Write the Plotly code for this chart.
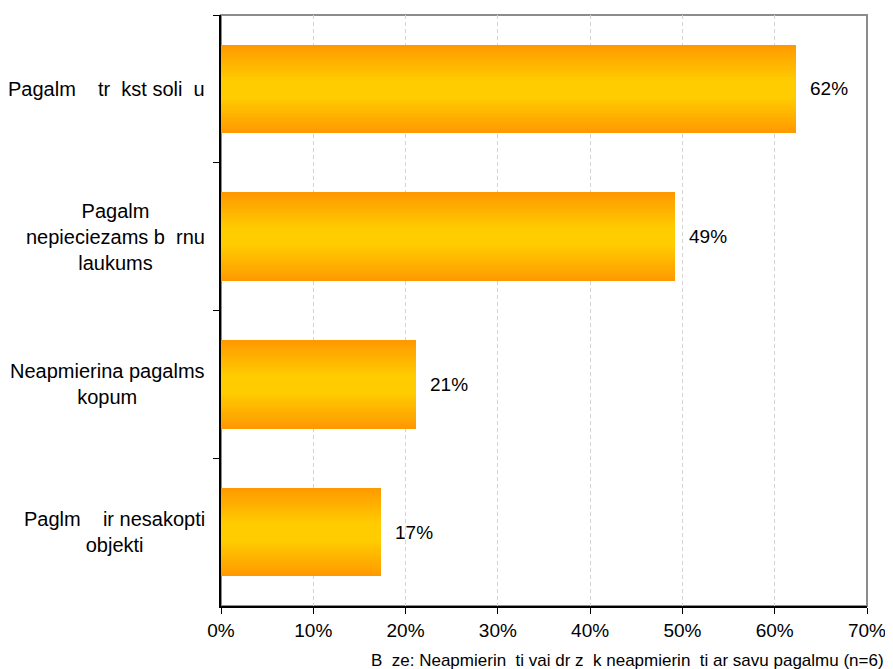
import plotly.graph_objects as go

NB = "\u00a0"
categories = [
    "Pagalm" + NB * 3 + " tr" + NB * 2 + "kst soli" + NB * 2 + "u",
    "Pagalm<br>nepieciezams b" + NB * 2 + "rnu<br>laukums",
    "Neapmierina pagalms<br>kopum",
    "Paglm" + NB * 3 + " ir nesakopti<br>objekti",
]
values = [62.3, 49.2, 21.1, 17.3]
value_labels = ["62%", "49%", "21%", "17%"]
x_ticks = [0, 10, 20, 30, 40, 50, 60, 70]
x_tick_labels = ["0%", "10%", "20%", "30%", "40%", "50%", "60%", "70%"]
footnote = ("B" + NB * 2 + "ze: Neapmierin" + NB * 2 + "ti vai dr" + NB + "z" + NB * 2
            + "k neapmierin" + NB * 2 + "ti ar savu pagalmu (n=6)")

FONT = "Liberation Sans, Arial, sans-serif"
orange = (255, 153, 0)
yellow = (255, 204, 0)
BAR_W = 0.6
N = 30

fig = go.Figure()
for k in range(N):
    d = 1 - k / N
    s = min(max((1 - d) / 0.8, 0), 1)
    c = tuple(round(orange[i] + (yellow[i] - orange[i]) * s) for i in range(3))
    fig.add_trace(go.Bar(
        x=values, y=categories, orientation="h",
        width=BAR_W * d,
        marker=dict(color="rgb(%d,%d,%d)" % c, line=dict(width=0)),
        hoverinfo="skip", showlegend=False,
    ))

annotations = []
for cat, v, lab in zip(categories, values, value_labels):
    annotations.append(dict(x=v, y=cat, xref="x", yref="y", text=lab, showarrow=False,
                            xanchor="left", yanchor="middle", xshift=12,
                            font=dict(family=FONT, size=19, color="black")))
    annotations.append(dict(x=0, y=cat, xref="paper", yref="y", text=cat, showarrow=False,
                            xanchor="right", yanchor="middle", xshift=-14, align="center",
                            font=dict(family=FONT, size=20, color="black")))
annotations.append(dict(x=1, y=0, xref="paper", yref="paper", text=footnote, showarrow=False,
                        xanchor="right", yanchor="top", xshift=19, yshift=-43,
                        font=dict(family=FONT, size=17, color="black")))

fig.update_layout(
    width=885, height=661,
    margin=dict(l=213, r=21, t=7, b=63),
    paper_bgcolor="white", plot_bgcolor="white",
    barmode="overlay", bargap=0,
    font=dict(family=FONT, size=19, color="black"),
    annotations=annotations,
    shapes=[dict(type="rect", xref="paper", yref="paper", x0=0, x1=1, y0=0, y1=1,
                 line=dict(color="#8c8c8c", width=2), layer="below")],
    xaxis=dict(range=[0, 70], tickvals=x_ticks, ticktext=x_tick_labels,
               showgrid=True, gridcolor="#d4d4d4", griddash="4px,3px", gridwidth=1,
               showline=True, linecolor="black", linewidth=2,
               ticks="outside", ticklen=6, tickcolor="black", tickwidth=1,
               zeroline=False, tickfont=dict(size=19, family=FONT)),
    yaxis=dict(autorange="reversed", showticklabels=False, tickson="boundaries",
               ticks="outside", ticklen=6, tickcolor="black", tickwidth=1,
               showline=True, linecolor="black", linewidth=2, showgrid=False),
)

fig.write_html("out.html")
